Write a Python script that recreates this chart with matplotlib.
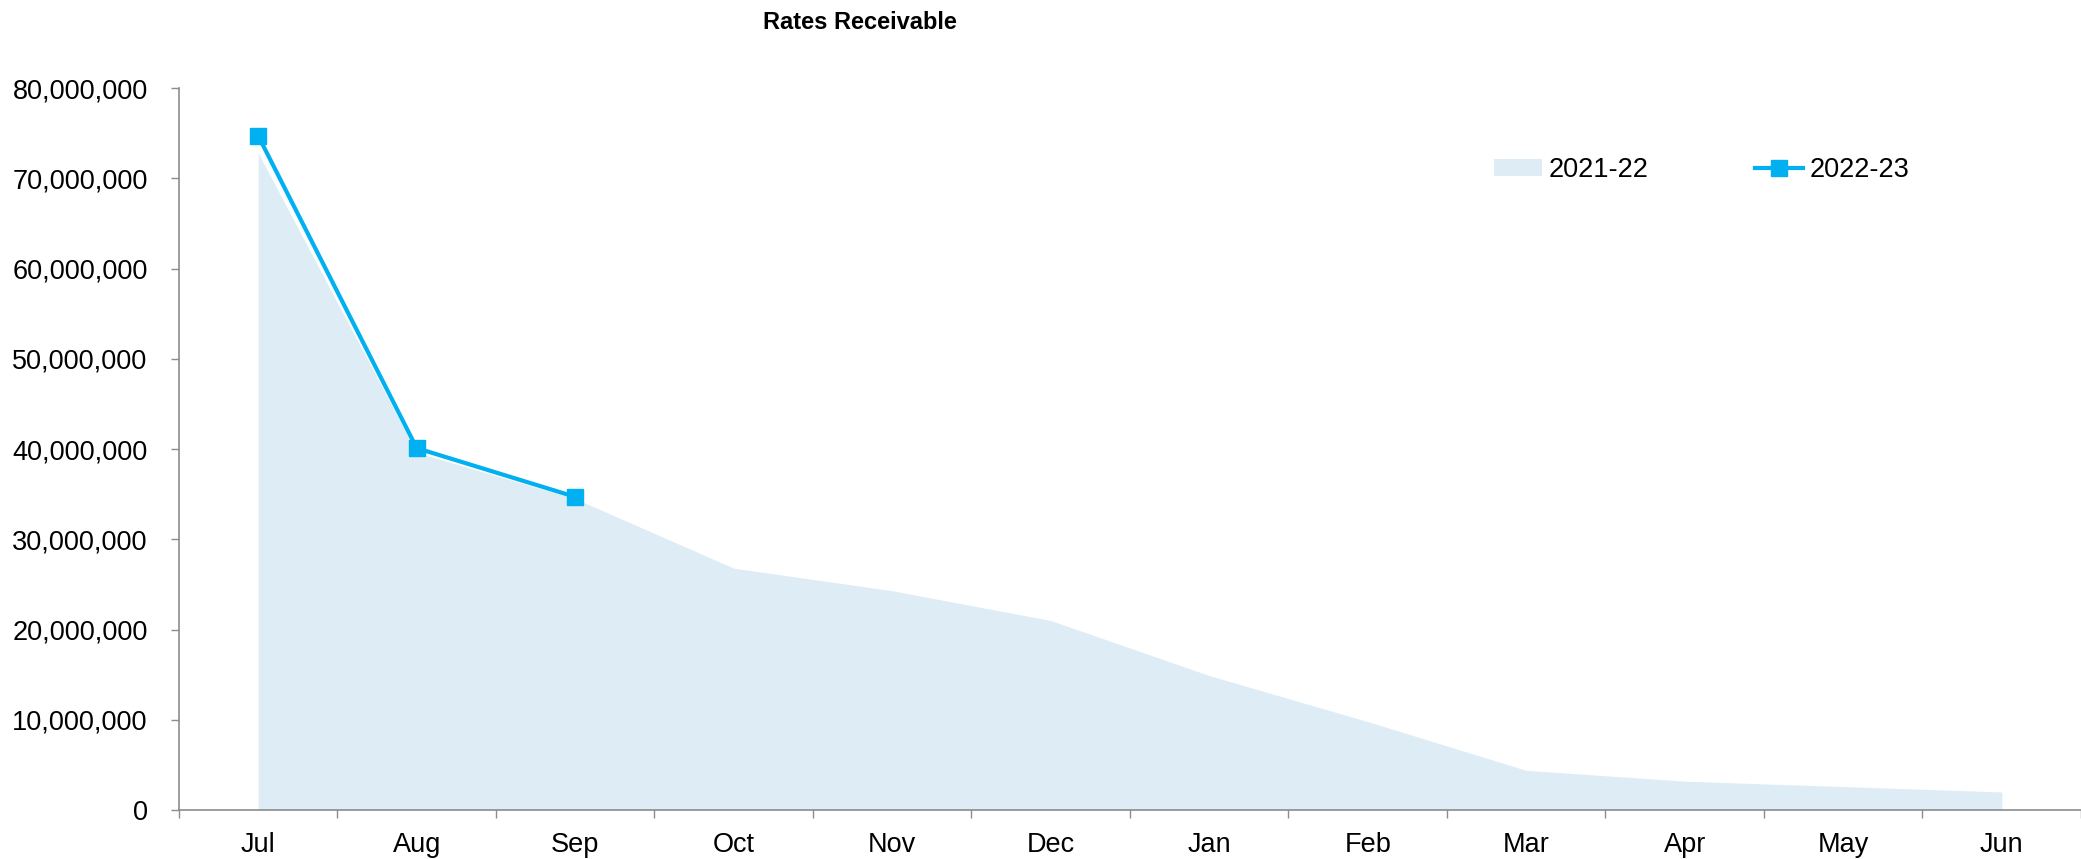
import matplotlib
matplotlib.use('Agg')
import matplotlib.pyplot as plt
from matplotlib.ticker import FuncFormatter, FixedLocator
import numpy as np

plt.rcParams['font.family'] = ['Liberation Sans', 'DejaVu Sans']

months = ['Jul', 'Aug', 'Sep', 'Oct', 'Nov', 'Dec',
          'Jan', 'Feb', 'Mar', 'Apr', 'May', 'Jun']
rates_2021_22 = [72.8e6, 39.6e6, 34.5e6, 26.8e6, 24.3e6, 21.0e6,
                 14.9e6, 9.8e6, 4.4e6, 3.2e6, 2.6e6, 2.0e6]
rates_2022_23 = [74.7e6, 40.1e6, 34.7e6]

area_color = '#DEECF6'
line_color = '#00B0F0'
axis_color = '#8C8C8C'

fig = plt.figure(figsize=(20.81, 8.59), dpi=100)
ax = fig.add_axes([0.086, 0.057, 0.914, 0.8405])

x = np.arange(len(months))
ax.fill_between(x, rates_2021_22, 0, color=area_color, linewidth=0, label='2021-22')
x2 = np.arange(len(rates_2022_23))
ax.plot(x2, rates_2022_23, color=line_color, linewidth=3, marker='s',
        markersize=11.5, label='2022-23', zorder=3)

ax.set_xlim(-0.5, 11.5)
ax.set_ylim(0, 80e6)
ax.set_yticks(np.arange(0, 80e6 + 1, 10e6))
ax.yaxis.set_major_formatter(FuncFormatter(lambda v, p: f'{int(v):,}'))

ax.set_xticks(x)
ax.set_xticklabels(months)
ax.xaxis.set_minor_locator(FixedLocator(np.arange(-0.5, 11.6, 1)))
ax.tick_params(axis='x', which='major', length=0, pad=16, labelsize=19.5)
ax.tick_params(axis='x', which='minor', length=5.5, color=axis_color, width=1)
ax.tick_params(axis='y', length=5.5, color=axis_color, width=1, pad=17, labelsize=19.5)

for s in ['top', 'right']:
    ax.spines[s].set_visible(False)
for s in ['left', 'bottom']:
    ax.spines[s].set_color(axis_color)
    ax.spines[s].set_linewidth(1.2)

fig.text(0.413, 0.974, 'Rates Receivable', ha='center', va='center',
         fontsize=17, fontweight='bold')

ax.legend(loc='center left', bbox_to_anchor=(0.706, 0.802),
          bbox_transform=fig.transFigure, ncol=2, frameon=False,
          fontsize=19.5, handlelength=1.8, handletextpad=0.25,
          columnspacing=3.9, handleheight=0.6)

fig.savefig('out.png', dpi=100)
